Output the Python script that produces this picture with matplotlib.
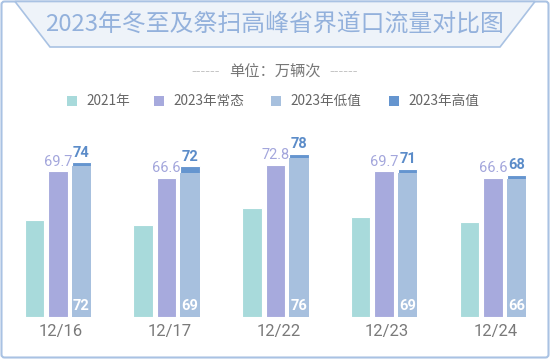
import matplotlib
matplotlib.use("Agg")
import matplotlib.pyplot as plt
from matplotlib.patches import Polygon, FancyBboxPatch, Rectangle
import numpy as np

plt.rcParams['font.family'] = ['Noto Sans CJK SC', 'DejaVu Sans']

# data
dates = ['12/16', '12/17', '12/22', '12/23', '12/24']
v2021 = [46.6, 43.9, 52.4, 47.9, 45.5]
v2023_normal = [69.7, 66.6, 72.8, 69.7, 66.6]
v2023_low = [72, 69, 76, 69, 66]
v2023_high = [74, 72, 78, 71, 68]
legend_names = ['2021年', '2023年常态', '2023年低值', '2023年高值']

c_teal = '#a8dadb'
c_purple = '#a7aadd'
c_low = '#a7c0de'
c_high = '#6595cf'
c_frame = '#a9c2e3'

fig = plt.figure(figsize=(5.5, 3.6), dpi=100)
fig.patch.set_facecolor('white')

# overlay in pixel coordinates for decorations
bg = fig.add_axes([0, 0, 1, 1])
bg.set_xlim(0, 550)
bg.set_ylim(360, 0)
bg.axis('off')

bg.add_patch(FancyBboxPatch((1.5, 1.5), 547, 356, boxstyle='round,pad=0,rounding_size=3',
                            fc='none', ec=c_frame, lw=1.5))
bg.add_patch(Polygon([(15, 1.5), (535, 1.5), (500, 47), (50, 47)], closed=True,
                     fc='#eef3f9', ec=c_frame, lw=1.2))
bg.text(275, 24, '2023年冬至及祭扫高峰省界道口流量对比图', ha='center', va='center',
        fontsize=17.2, color='#93b1dc')
bg.text(275, 72, '单位：万辆次', ha='center', va='center', fontsize=11, color='#777777')
bg.text(206, 72, '------', ha='center', va='center', fontsize=9.5, color='#c4c4c4',
        family='DejaVu Sans')
bg.text(344, 72, '------', ha='center', va='center', fontsize=9.5, color='#c4c4c4',
        family='DejaVu Sans')

# legend
leg_x = [67, 154, 271, 389]
for x, name, col in zip(leg_x, legend_names, [c_teal, c_purple, c_low, c_high]):
    bg.add_patch(Rectangle((x, 96), 10, 10, fc=col, ec='none'))
    bg.text(x + 19, 101, name, ha='left', va='center', fontsize=9.8, color='#666666')

# chart axes
ax = fig.add_axes([0, 42.7 / 360, 1, 217.3 / 360])
ax.patch.set_alpha(0)
x = np.arange(len(dates))
px = 108.75
w = 19.5 / px
off = 23.5 / px
ax.set_xlim(-57.8 / px, (550 - 57.8) / px)
ax.set_ylim(0, 217.3 / 2.095)

ax.bar(x - off, v2021, w, color=c_teal, edgecolor='white', lw=0.8)
ax.bar(x, v2023_normal, w, color=c_purple, edgecolor='white', lw=0.8)
ax.bar(x + off, v2023_high, w, color=c_high, edgecolor='white', lw=0.8)
ax.bar(x + off, v2023_low, w, color=c_low, edgecolor='none', lw=0)

for i in range(len(dates)):
    ax.text(x[i], v2023_normal[i] + 1.2, f'{v2023_normal[i]:.1f}', ha='center', va='bottom',
            fontsize=10.5, color='#a3a6dc', family='Roboto')
    ax.text(x[i] + off, v2023_high[i] + 1.2, f'{v2023_high[i]}', ha='center', va='bottom',
            fontsize=10.5, color='#5b8cc9', family='Roboto', fontweight='bold')
    ax.text(x[i] + off, 2.2, f'{v2023_low[i]}', ha='center', va='bottom',
            fontsize=10.5, color='white', family='Roboto', fontweight='bold')

ax.set_xticks(x + 3 / px)
ax.set_xticklabels(dates, fontsize=12, color='#7a7a7a', family='Roboto')
ax.tick_params(axis='x', length=0, pad=5)
ax.set_yticks([])
for s in ax.spines.values():
    s.set_visible(False)

fig.savefig('out.png', dpi=100)
